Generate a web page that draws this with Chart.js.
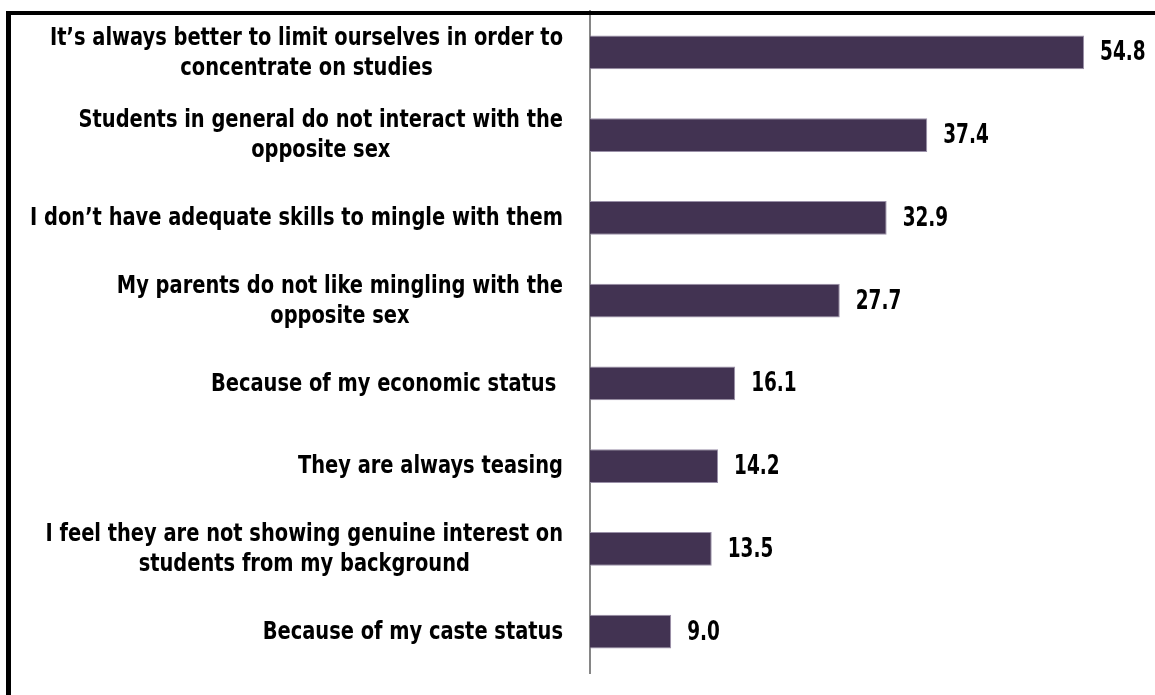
<!DOCTYPE html>
<html>
<head>
<meta charset="utf-8">
<script src="https://cdn.jsdelivr.net/npm/chart.js@4.4.1/dist/chart.umd.min.js"></script>
<style>
  html, body { margin: 0; padding: 0; background: #fff; width: 1155px; height: 695px; overflow: hidden; }
  #wrap { position: relative; width: 1155px; height: 695px; }
  canvas { position: absolute; left: 0; top: 0; }
  /* black frame running off the right and bottom edges */
  #frame { position: absolute; left: 6px; top: 11px; width: 1200px; height: 740px;
           border-left: 5px solid #000; border-top: 4px solid #000; box-sizing: border-box; pointer-events: none; }
</style>
</head>
<body>
<div id="wrap">
  <canvas id="chart" width="1155" height="695"></canvas>
  <div id="frame"></div>
</div>
<script>
// Reasons given, top to bottom
const reasons = [
  ["It\u2019s always better to limit ourselves in order to", "concentrate on studies"],
  ["Students in general do not interact with the", "opposite sex"],
  "I don\u2019t have adequate skills to mingle with them",
  ["My parents do not like mingling with the", "opposite sex"],
  "Because of my economic status ",
  "They are always teasing",
  ["I feel they are not showing genuine interest on", "students from my background"],
  "Because of my caste status"
];

// Share of respondents (%)
const percentages = [54.8, 37.4, 32.9, 27.7, 16.1, 14.2, 13.5, 9.0];

const valueMin = 0;
const valueMax = 60;

const FONT = "'DejaVu Sans Condensed', 'Liberation Sans Narrow', 'Liberation Sans', sans-serif";
const LABEL_SQUEEZE = 0.9;
const VALUE_SQUEEZE = 0.76;

// Draws text squeezed horizontally so the bold face reads as a narrow one
function narrowText(ctx, text, x, y, squeeze) {
  ctx.save();
  ctx.translate(x, y);
  ctx.scale(squeeze, 1);
  ctx.fillText(text, 0, 0);
  ctx.restore();
}

// Category names: each block sits against the axis, its lines centred on one another
const categoryLabels = {
  id: 'categoryLabels',
  afterDraw(chart) {
    const ctx = chart.ctx;
    const yScale = chart.scales.y;
    const right = yScale.right - 27;
    const lineGap = 30;
    ctx.save();
    ctx.font = "bold 24px " + FONT;
    ctx.fillStyle = '#000';
    ctx.textAlign = 'center';
    ctx.textBaseline = 'middle';
    chart.data.labels.forEach((label, i) => {
      const lines = Array.isArray(label) ? label : [label];
      const blockWidth = Math.max(...lines.map(l => ctx.measureText(l).width)) * LABEL_SQUEEZE;
      const cx = right - blockWidth / 2;
      const cy = yScale.getPixelForValue(i);
      const first = cy - (lines.length - 1) * lineGap / 2;
      lines.forEach((line, j) => narrowText(ctx, line, cx, first + j * lineGap + 1, LABEL_SQUEEZE));
    });
    ctx.restore();
  }
};

// Writes each bar's value just past its end
const valueLabels = {
  id: 'valueLabels',
  afterDatasetsDraw(chart) {
    const ctx = chart.ctx;
    const meta = chart.getDatasetMeta(0);
    ctx.save();
    ctx.font = "bold 27px " + FONT;
    ctx.fillStyle = '#000';
    ctx.textAlign = 'left';
    ctx.textBaseline = 'middle';
    meta.data.forEach((bar, i) => {
      const v = chart.data.datasets[0].data[i];
      narrowText(ctx, v.toFixed(1), bar.x + 16, bar.y + 1, VALUE_SQUEEZE);
    });
    ctx.restore();
  }
};

new Chart(document.getElementById('chart'), {
  type: 'bar',
  data: {
    labels: reasons,
    datasets: [{
      data: percentages,
      backgroundColor: '#423352',
      borderColor: '#9a90a8',
      borderWidth: 1,
      barPercentage: 0.405,
      categoryPercentage: 1.0
    }]
  },
  options: {
    indexAxis: 'y',
    responsive: false,
    animation: false,
    devicePixelRatio: 1,
    layout: { padding: { left: 0, right: 24, top: 11, bottom: 22 } },
    plugins: {
      legend: { display: false },
      tooltip: { enabled: false }
    },
    scales: {
      x: {
        display: false,
        min: valueMin,
        max: valueMax
      },
      y: {
        grid: { display: false, drawTicks: false },
        border: { display: true, color: '#868686', width: 2 },
        ticks: { display: false },
        afterFit(scale) {
          scale.width = 590;
          scale.paddingTop = 0;
          scale.paddingBottom = 0;
        }
      }
    }
  },
  plugins: [valueLabels, categoryLabels]
});
</script>
</body>
</html>
